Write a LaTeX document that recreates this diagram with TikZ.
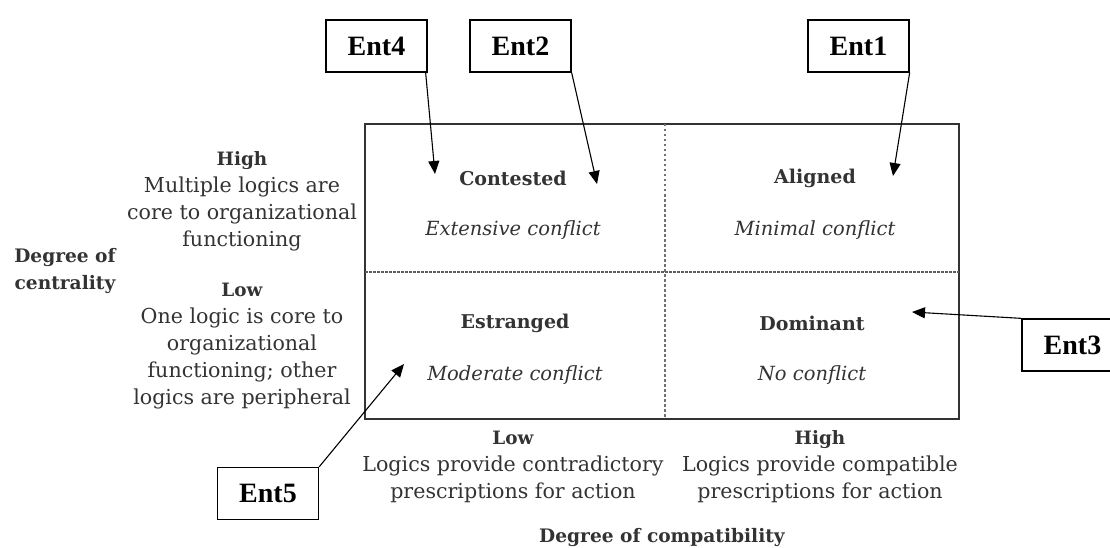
\documentclass[tikz,border=0pt]{standalone}
\usepackage{fontspec}
\setmainfont{DejaVu Serif}
\newfontfamily\entfont{Liberation Serif}
\usetikzlibrary{arrows.meta}
\definecolor{ink}{HTML}{333333}
\newcommand{\axisbold}[1]{{\fontsize{18.4}{27}\selectfont\bfseries #1}}
\tikzset{
  entbox/.style={draw=black, line width=1.3pt, minimum width=101pt, minimum height=52pt,
    inner sep=0pt, font=\entfont\fontsize{28}{30}\selectfont\bfseries},
  quadhead/.style={text=ink, font=\fontsize{19}{22}\selectfont\bfseries},
  quadsub/.style={text=ink, font=\fontsize{19.5}{22}\selectfont\itshape},
  axistext/.style={text=ink, align=center, inner sep=0pt,
    font=\fontsize{20.6}{27}\selectfont},
  axistitle/.style={text=ink, align=center, inner sep=0pt,
    font=\fontsize{18.6}{27}\selectfont\bfseries},
  pointer/.style={draw=black, line width=1.1pt, -{Triangle[length=13pt,width=11pt]}}
}
\begin{document}
\begin{tikzpicture}[x=1pt,y=-1pt]
\useasboundingbox (0,0) rectangle (1110,548);
\clip (0,0) rectangle (1110,548);

% quadrant frame and dividers
\draw[ink, line width=1.8pt] (365,124) rectangle (959,419);
\draw[ink!80, line width=1.2pt, dash pattern=on 2.5pt off 1.5pt] (365,272) -- (959,272);
\draw[ink!70, line width=1.2pt, dash pattern=on 2.5pt off 2.5pt] (665,124) -- (665,419);

% quadrant labels
\node[quadhead] (contested) at (513,178) {Contested};
\node[quadsub]  (extensive) at (513,230) {Extensive conflict};
\node[quadhead] (aligned)   at (815,178) {Aligned};
\node[quadsub]  (minimal)   at (815,230) {Minimal conflict};
\node[quadhead] (estranged) at (515,323) {Estranged};
\node[quadsub]  (moderate)  at (515,375) {Moderate conflict};
\node[quadhead] (dominant)  at (812,323) {Dominant};
\node[quadsub]  (noconf)    at (812,375) {No conflict};

% centrality axis
\node[axistitle] (centrality) at (65,271) {Degree of\\centrality};
\node[axistext] (highc) at (242,201) {\axisbold{High}\\Multiple logics are\\core to organizational\\functioning};
\node[axistext] (lowc) at (242,346) {\axisbold{Low}\\One logic is core to\\organizational\\functioning; other\\logics are peripheral};

% compatibility axis
\node[axistext] (lowp) at (513,467) {\axisbold{Low}\\Logics provide contradictory\\prescriptions for action};
\node[axistext] (highp) at (820,467) {\axisbold{High}\\Logics provide compatible\\prescriptions for action};
\node[axistitle] (compat) at (662,537) {Degree of compatibility};

% entity boxes
\node[entbox] (ent4) at (376.5,46) {Ent4};
\node[entbox] (ent2) at (520.5,46) {Ent2};
\node[entbox] (ent1) at (858.5,46) {Ent1};
\node[entbox] (ent3) at (1072.5,345) {Ent3};
\node[entbox] (ent5) at (268,493.5) {Ent5};

% pointer targets inside the quadrants
\coordinate (t4) at (435,174);
\coordinate (t2) at (597,184);
\coordinate (t1) at (893,176);
\coordinate (t3) at (912,312);
\coordinate (t5) at (404,364);

\draw[pointer] ([xshift=-2pt]ent4.south east) -- (t4);
\draw[pointer] (ent2.south east) -- (t2);
\draw[pointer] (ent1.south east) -- (t1);
\draw[pointer] (ent3.north west) -- (t3);
\draw[pointer] (ent5.north east) -- (t5);
\end{tikzpicture}
\end{document}
